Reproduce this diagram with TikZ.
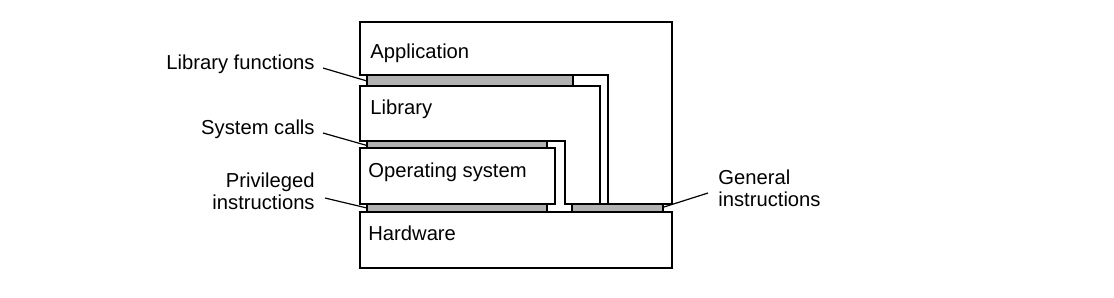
\documentclass[tikz,border=0pt]{standalone}
\usepackage{fontspec}
\setmainfont{Liberation Sans}
\usepackage[dvipsnames]{xcolor}
\usepackage{tikz}

\tikzset{
  layer/.style={draw=black, line width=0.8pt, fill=white, line join=miter},
  ifbar/.style={draw=black, line width=0.6pt, fill=gray!60},
  lbl/.style={inner sep=0pt, font=\fontsize{10.1}{11}\selectfont},
  ptr/.style={line width=0.6pt},
}

\begin{document}
\begin{tikzpicture}[x=0.5pt,y=-0.5pt]
  \useasboundingbox (0,0) rectangle (1114,297);
  % layers
  \draw[layer] (360,22) -- (672,22) -- (672,204) -- (608,204) -- (608,75) -- (360,75) -- cycle;
  \draw[layer] (360,86) -- (600,86) -- (600,204) -- (565,204) -- (565,141) -- (360,141) -- cycle;
  \draw[layer] (360,148) rectangle (555,204);
  \draw[layer] (360,212) rectangle (672,268);
  % interfaces
  \draw[ifbar] (367,75) rectangle (573,86);
  \draw[ifbar] (367,141) rectangle (547,148);
  \draw[ifbar] (367,204) rectangle (547,212);
  \draw[ifbar] (572,204) rectangle (663,212);
  \coordinate (libL) at (367,81);
  \coordinate (sysL) at (367,145.5);
  \coordinate (privL) at (367,208);
  \coordinate (genR) at (664,207);
  % layer names
  \node[lbl, anchor=base west] (app) at (370,58) {Application};
  \node[lbl, anchor=base west] (lib) at (370,114) {Library};
  \node[lbl, anchor=base west] (os) at (368,177) {Operating system};
  \node[lbl, anchor=base west] (hw) at (368,240) {Hardware};
  % interface names
  \node[lbl, anchor=base east] (libfn) at (315,69) {Library functions};
  \node[lbl, anchor=base east] (syscall) at (315,134) {System calls};
  \node[lbl, anchor=east, align=right] (priv) at (315,191) {Privileged\\instructions};
  \node[lbl, anchor=west, align=left] (gen) at (718,188.5) {General\\instructions};
  \draw[ptr] ([xshift=4pt,yshift=0.5pt]libfn.base east) -- (libL);
  \draw[ptr] ([xshift=4pt,yshift=0.5pt]syscall.base east) -- (sysL);
  \draw[ptr] ([xshift=5pt,yshift=-3.5pt]priv.east) -- (privL);
  \draw[ptr] ([xshift=-5pt,yshift=-2.25pt]gen.west) -- (genR);
\end{tikzpicture}
\end{document}
